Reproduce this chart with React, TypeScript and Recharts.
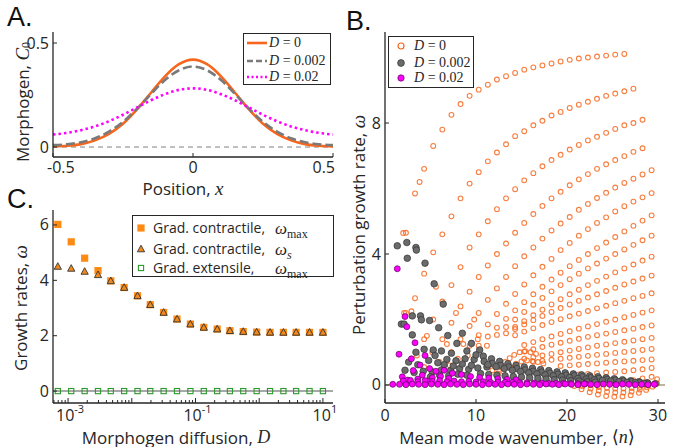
import { LineChart, Line, ScatterChart, Scatter, XAxis, YAxis, ReferenceLine } from "recharts"

const SANS = "'Open Sans', 'DejaVu Sans', sans-serif"
const MATH = "'Liberation Serif', 'DejaVu Serif', serif"
const INK = "#262626"
const ORANGE = "#f7661c"
const GRAY = "#7a7a7a"
const MAGENTA = "#ff00ff"

// ---- A. morphogen profiles
const positions = [-0.5, -0.45, -0.4, -0.35, -0.3, -0.25, -0.2, -0.15, -0.1, -0.05, 0, 0.05, 0.1, 0.15, 0.2, 0.25, 0.3, 0.35, 0.4, 0.45, 0.5]
const profileD0 = [0.003, 0.006, 0.014, 0.032, 0.063, 0.112, 0.181, 0.261, 0.34, 0.398, 0.42, 0.398, 0.34, 0.261, 0.181, 0.112, 0.063, 0.032, 0.014, 0.006, 0.003]
const profileD1 = [0.009, 0.013, 0.023, 0.042, 0.074, 0.121, 0.184, 0.255, 0.322, 0.369, 0.387, 0.369, 0.322, 0.255, 0.184, 0.121, 0.074, 0.042, 0.023, 0.013, 0.009]
const profileD2 = [0.06, 0.068, 0.081, 0.099, 0.124, 0.155, 0.19, 0.225, 0.254, 0.275, 0.282, 0.275, 0.254, 0.225, 0.19, 0.155, 0.124, 0.099, 0.081, 0.068, 0.06]
const profileRows = positions.map((x, i) => ({ x, d0: profileD0[i], d1: profileD1[i], d2: profileD2[i] }))

// ---- C. growth rates vs diffusion
const diffusion = [0.00069, 0.00112, 0.00182, 0.00295, 0.00468, 0.00759, 0.0123, 0.0195, 0.0316, 0.0513, 0.0832, 0.135, 0.219, 0.347, 0.562, 0.912, 1.48, 2.4, 3.8, 6.17, 10]
const contractileMax = [6.02, 5.39, 4.8, 4.35, 3.98, 3.74, 3.44, 3.12, 2.84, 2.6, 2.42, 2.3, 2.24, 2.18, 2.15, 2.13, 2.12, 2.12, 2.12, 2.12, 2.12]
const contractileS = [4.5, 4.43, 4.32, 4.2, 3.98, 3.74, 3.44, 3.12, 2.84, 2.6, 2.42, 2.3, 2.24, 2.18, 2.15, 2.13, 2.12, 2.12, 2.12, 2.12, 2.12]
const extensileMax = [0, 0, 0, 0, 0, 0, 0, 0, 0, 0, 0, 0, 0, 0, 0, 0, 0, 0, 0, 0, 0]
const diffTicks = [0.0006, 0.0007, 0.0008, 0.0009, 0.001, 0.002, 0.003, 0.004, 0.005, 0.006, 0.007, 0.008, 0.009, 0.01, 0.02, 0.03, 0.04, 0.05, 0.06, 0.07, 0.08, 0.09, 0.1, 0.2, 0.3, 0.4, 0.5, 0.6, 0.7, 0.8, 0.9, 1, 2, 3, 4, 5, 6, 7, 8, 9, 10]
const diffLabels: Record<string, string> = { "-3": "-3", "-1": "-1", "1": "1" }

const cMax = diffusion.map((D, i) => ({ D, w: contractileMax[i] }))
const cS = diffusion.map((D, i) => ({ D, w: contractileS[i] }))
const cExt = diffusion.map((D, i) => ({ D, w: extensileMax[i] }))

// ---- B. perturbation growth rates vs mean mode wavenumber
const modeN = [1.3, 2.3, 3.3, 4.3, 5.3, 6.3, 7.3, 8.3, 9.3, 10.3, 11.3, 12.3, 13.3, 14.3, 15.3, 16.3, 17.3, 18.3, 19.3, 20.3, 21.3, 22.3, 23.3, 24.3, 25.3, 26.3, 27.3, 28.3, 29.3]

// [first mode, growth rates along the branch]
const branchesD0: [number, number[]][] = [
  [2, [4.65, 5.85, 6.6, 7.3, 7.8, 8.25, 8.58, 8.83, 9.02, 9.17, 9.33, 9.43, 9.53, 9.63, 9.7, 9.76, 9.82, 9.88, 9.93, 9.97, 10.0, 10.03, 10.06, 10.09, 10.11]],
  [2, [2.2, 2.65, 3.4, 4.05, 4.6, 5.15, 5.7, 6.15, 6.5, 6.83, 7.1, 7.35, 7.6, 7.75, 7.93, 8.07, 8.23, 8.34, 8.46, 8.56, 8.65, 8.74, 8.83, 8.9, 8.97, 9.05]],
  [4, [1.4, 2.0, 2.55, 3.05, 3.6, 4.2, 4.6, 5.0, 5.37, 5.7, 5.98, 6.25, 6.47, 6.68, 6.87, 7.03, 7.19, 7.33, 7.47, 7.58, 7.7, 7.82, 7.93, 8.0, 8.1]],
  [6, [1.4, 1.9, 2.4, 2.85, 3.3, 3.65, 4.0, 4.32, 4.65, 4.95, 5.22, 5.47, 5.7, 5.9, 6.1, 6.28, 6.44, 6.6, 6.74, 6.87, 6.99, 7.12, 7.23]],
  [7, [1.0, 1.4, 1.8, 2.2, 2.6, 2.95, 3.3, 3.63, 3.93, 4.2, 4.47, 4.72, 4.93, 5.13, 5.35, 5.53, 5.71, 5.87, 6.03, 6.17, 6.3, 6.43, 6.56]],
  [9, [1.2, 1.52, 1.85, 2.17, 2.48, 2.78, 3.07, 3.35, 3.61, 3.85, 4.12, 4.34, 4.56, 4.76, 4.95, 5.12, 5.3, 5.46, 5.6, 5.73, 5.86]],
  [10, [1.2, 1.48, 1.75, 2.02, 2.28, 2.53, 2.77, 3.0, 3.22, 3.43, 3.63, 3.82, 4.0, 4.18, 4.35, 4.52, 4.69, 4.86, 5.02, 5.18]],
  [12, [1.53, 1.77, 2.0, 2.23, 2.45, 2.66, 2.86, 3.05, 3.23, 3.4, 3.56, 3.71, 3.86, 4.0, 4.14, 4.28, 4.42, 4.56]],
  [13, [1.58, 1.77, 1.95, 2.13, 2.3, 2.46, 2.62, 2.77, 2.91, 3.05, 3.18, 3.31, 3.44, 3.56, 3.68, 3.8, 3.92]],
  [14, [1.71, 1.85, 1.98, 2.11, 2.23, 2.35, 2.46, 2.57, 2.67, 2.77, 2.87, 2.97, 3.07, 3.16, 3.25, 3.34]],
  [14, [1.52, 1.63, 1.73, 1.83, 1.92, 2.01, 2.1, 2.18, 2.26, 2.34, 2.42, 2.5, 2.57, 2.65, 2.72, 2.8]],
  [15, [1.22, 1.31, 1.4, 1.48, 1.56, 1.64, 1.72, 1.79, 1.86, 1.93, 2.0, 2.07, 2.14, 2.21, 2.28]],
  [15, [1.02, 1.09, 1.16, 1.23, 1.29, 1.35, 1.41, 1.47, 1.52, 1.57, 1.62, 1.67, 1.72, 1.77, 1.82]],
  [15, [0.8, 0.85, 0.9, 0.95, 1.0, 1.05, 1.1, 1.15, 1.2, 1.24, 1.28, 1.32, 1.36, 1.4, 1.44]],
  [16, [0.71, 0.74, 0.77, 0.8, 0.83, 0.86, 0.89, 0.92, 0.95, 0.98, 1.01, 1.04, 1.07, 1.1]],
  [19, [0.58, 0.6, 0.62, 0.64, 0.66, 0.68, 0.7, 0.72, 0.74, 0.76, 0.78]],
  [21, [0.32, 0.34, 0.36, 0.38, 0.4, 0.42, 0.45, 0.48, 0.52]],
  [23, [0.05, 0.08, 0.1, 0.12, 0.15, 0.2, 0.25]],
]

// loose points of D = 0 (fan, loop below zero, low modes)
const looseD0 = [
  [12.6, 0.55], [13.2, 0.7], [13.7, 0.82], [14.2, 0.92], [14.8, 1.0], [15.4, 1.03], [16.0, 1.0], [16.6, 0.95],
  [13.8, 0.55], [14.4, 0.65], [15.0, 0.72], [15.6, 0.75], [16.2, 0.73], [16.8, 0.7], [17.4, 0.66], [11.8, 0.45], [12.4, 0.35], [13.0, 0.42],
  [20.8, -0.03], [21.6, -0.13], [22.5, -0.22], [23.4, -0.29], [24.3, -0.34], [25.2, -0.36], [26.1, -0.35], [27.0, -0.31], [27.9, -0.24], [28.7, -0.15], [29.4, -0.05], [29.9, 0.05],
  [21.7, -0.04], [22.6, -0.11], [23.5, -0.17], [24.4, -0.21], [25.3, -0.23], [26.2, -0.23], [27.1, -0.2], [28.0, -0.14], [28.8, -0.07],
  [22.6, -0.01], [23.5, -0.06], [24.4, -0.09], [25.3, -0.11], [26.2, -0.11], [27.1, -0.09], [28.0, -0.06], [29.9, 0.18],
  [2.1, 2.2], [2.9, 2.25], [4.6, 1.5], [5.2, 1.0], [6.0, 0.7], [7.1, 0.6], [8.0, 0.8], [9.1, 0.9], [3.5, 0.9], [4.3, 0.55],
  [6.8, 1.25], [8.6, 1.25], [10.2, 1.4], [11.2, 1.2], [9.8, 2.0], [7.8, 2.2], [5.6, 3.0], [2.0, 4.64], [3.8, 6.2],
]

const pointsD002 = [
  [1.35, 4.25], [2.4, 4.35], [3.4, 4.2], [3.45, 4.12], [2.45, 3.87], [4.4, 3.72], [5.4, 3.09], [6.4, 2.47], [3.0, 2.11], [3.9, 2.11],
  [4.0, 1.99], [1.8, 1.86], [2.1, 1.86], [4.9, 1.97], [5.9, 1.75], [3.0, 1.53], [6.9, 1.51], [8.5, 1.58], [7.9, 1.27], [9.5, 1.27],
  [4.3, 1.09], [5.3, 1.07], [6.2, 1.04], [3.4, 1.0], [7.3, 0.97], [9.0, 1.04], [10.4, 1.07], [2.6, 0.7], [3.6, 0.62], [4.8, 0.75],
  [5.8, 0.68], [6.8, 0.78], [7.8, 0.74], [8.8, 0.8], [9.8, 0.78], [2.2, 0.45], [3.2, 0.38], [4.2, 0.42], [5.2, 0.4], [6.2, 0.46],
  [7.2, 0.44], [8.2, 0.5], [9.2, 0.48], [10.2, 0.52], [11.2, 0.55],
  [10.8, 0.88], [11.7, 0.8], [12.6, 0.72], [13.5, 0.65], [14.4, 0.6], [15.3, 0.55], [16.2, 0.51], [17.1, 0.47], [18.0, 0.44], [18.9, 0.4],
  [19.8, 0.37], [20.7, 0.34], [21.6, 0.31], [22.5, 0.28], [23.4, 0.25], [24.3, 0.22], [25.2, 0.19], [26.1, 0.16], [27.0, 0.13], [27.9, 0.1],
  [28.8, 0.07], [29.7, 0.04],
  [10.9, 0.72], [11.8, 0.66], [12.7, 0.6], [13.6, 0.55], [14.5, 0.5], [15.4, 0.46], [16.3, 0.42], [17.2, 0.39], [18.1, 0.36], [19.0, 0.33],
  [19.9, 0.3], [20.8, 0.28], [21.7, 0.25], [22.6, 0.22], [23.5, 0.2], [24.4, 0.17], [25.3, 0.15], [26.2, 0.12], [27.1, 0.1], [28.0, 0.08], [28.9, 0.05],
  [11.3, 0.62], [12.2, 0.56], [13.1, 0.5], [14.0, 0.45], [14.9, 0.41], [15.8, 0.37], [16.7, 0.34], [17.6, 0.31], [18.5, 0.28], [19.4, 0.25],
  [20.3, 0.23], [21.2, 0.2], [22.1, 0.18], [23.0, 0.16], [23.9, 0.14], [24.8, 0.12], [25.7, 0.1], [26.6, 0.08], [27.5, 0.07], [28.4, 0.05],
  [10.5, 0.35], [11.4, 0.32], [12.3, 0.3], [13.2, 0.28], [14.1, 0.26], [15.0, 0.24], [15.9, 0.22], [16.8, 0.2], [17.7, 0.18], [18.6, 0.16],
  [19.5, 0.15], [20.4, 0.13], [21.3, 0.12], [22.2, 0.1], [23.1, 0.09],
  [5.5, 0.9], [6.5, 0.62], [7.5, 0.58], [8.5, 0.64], [9.5, 0.6], [10.0, 0.92], [5.0, 0.25], [6.0, 0.3], [7.0, 0.28], [8.0, 0.33], [9.0, 0.3],
]

const pointsD02 = [
  [1.35, 3.55], [2.2, 2.09], [2.4, 1.78], [3.3, 1.29], [1.54, 0.94], [2.9, 0.8], [3.85, 0.61], [1.9, 0.25], [0.85, 0.02], [4.4, 0.9],
  [4.9, 0.5], [5.6, 0.42], [6.5, 0.45], [7.4, 0.36], [3.1, 0.44], [2.5, 0.15], [4.1, 0.3], [8.4, 0.32], [5.2, 0.22], [6.1, 0.26],
  [7.0, 0.2], [9.4, 0.26], [10.4, 0.23], [11.4, 0.21], [12.4, 0.19], [13.4, 0.17], [14.4, 0.16], [3.6, 0.18], [4.6, 0.12],
  [2.0, 0.12], [2.8, 0.14], [3.6, 0.1], [4.4, 0.13], [5.2, 0.11], [6.0, 0.13], [6.8, 0.1], [7.6, 0.12], [8.4, 0.1], [9.2, 0.11],
  [10.0, 0.09], [10.8, 0.1], [11.6, 0.08], [12.4, 0.09], [13.2, 0.08], [14.0, 0.08], [14.8, 0.07], [15.6, 0.07], [16.4, 0.06], [17.2, 0.06],
  [18.0, 0.05], [18.8, 0.05], [19.6, 0.05], [20.4, 0.04], [21.2, 0.04], [22.0, 0.04],
  [1.6, 0.02], [2.3, 0.01], [3.0, 0.03], [3.7, 0.02], [4.4, 0.01], [5.1, 0.03], [5.8, 0.02], [6.5, 0.01], [7.2, 0.03], [7.9, 0.02],
  [8.6, 0.01], [9.3, 0.03], [10.0, 0.02], [10.7, 0.01], [11.4, 0.03], [12.1, 0.02], [12.8, 0.01], [13.5, 0.03], [14.2, 0.02], [14.9, 0.01],
  [15.6, 0.03], [16.3, 0.02], [17.0, 0.01], [17.7, 0.03], [18.4, 0.02], [19.1, 0.01], [19.8, 0.03], [20.5, 0.02], [21.2, 0.01], [21.9, 0.03],
  [22.6, 0.02], [23.3, 0.01], [24.0, 0.03], [24.7, 0.02], [25.4, 0.01], [26.1, 0.03], [26.8, 0.02], [27.5, 0.01], [28.2, 0.02], [28.9, 0.01], [29.6, 0.02],
]

const toPts = (list: number[][]) => list.map(([n, w]) => ({ n, w }))
const bD0 = [
  ...branchesD0.flatMap(([first, ws]) => ws.map((w, i) => ({ n: modeN[first - 1 + i], w }))),
  ...toPts(looseD0),
]
const bD002 = toPts(pointsD002)
const bD02 = toPts(pointsD02)

// ---- axis helpers
const tickText = { fontFamily: SANS, fontSize: 16, fill: INK }

const bottomTick = (label: (v: number) => any, len: (v: number) => number, dy: number, anchor?: (v: number) => [string, number]) =>
  (p: any) => {
    const v = p.payload.value
    const [ta, dx] = anchor ? anchor(v) : ["middle", 0]
    const t = label(v)
    return (
      <g>
        <line x1={p.x} y1={p.y} x2={p.x} y2={p.y - len(v)} stroke={INK} strokeWidth={1} />
        {t != null && <text x={p.x + dx} y={p.y + dy} textAnchor={ta} {...tickText}>{t}</text>}
      </g>
    )
  }

const leftTick = (label: (v: number) => string) => (p: any) => (
  <g>
    <line x1={p.x} y1={p.y} x2={p.x + 4} y2={p.y} stroke={INK} strokeWidth={1} />
    <text x={p.x - 4} y={p.y + 5.5} textAnchor="end" {...tickText}>{label(p.payload.value)}</text>
  </g>
)

function Title({ px, py, rot = 0, children }: any) {
  return (
    <text x={px} y={py} transform={rot ? `rotate(${rot} ${px} ${py})` : undefined} textAnchor="middle"
      dominantBaseline="central" fontFamily={SANS} fontSize={17} fill={INK}>
      {children}
    </text>
  )
}

const axisLine = { stroke: INK, strokeWidth: 1.3 }
const mathSpan = { fontFamily: MATH, fontStyle: "italic" as const, fontSize: 19 }
const mathLow = { ...mathSpan, fontSize: 18 }

const ring = (p: any) => <circle cx={p.cx} cy={p.cy} r={2.4} fill="none" stroke={ORANGE} strokeWidth={1.1} strokeOpacity={0.85} />
const grayDot = (p: any) => <circle cx={p.cx} cy={p.cy} r={3.3} fill="#6b6b6b" stroke="#333" strokeWidth={0.7} />
const pinkDot = (p: any) => <circle cx={p.cx} cy={p.cy} r={3} fill={MAGENTA} stroke="#5a0a5a" strokeWidth={0.7} />
const orangeSquare = (p: any) => <rect x={p.cx - 3.6} y={p.cy - 3.6} width={7.2} height={7.2} fill="#ff8a12" />
const triangle = (p: any) => (
  <polygon points={`${p.cx},${p.cy - 3.8} ${p.cx - 3.6},${p.cy + 2.8} ${p.cx + 3.6},${p.cy + 2.8}`} fill="#f08a1e" stroke="#333" strokeWidth={0.9} />
)
const greenSquare = (p: any) => <rect x={p.cx - 2.6} y={p.cy - 2.6} width={5.2} height={5.2} fill="none" stroke="#2a9a2a" strokeWidth={1.1} />

const box = (left: number, top: number, width: number, height: number): React.CSSProperties => ({
  position: "absolute", left, top, width, height, border: `1.3px solid ${INK}`, background: "#fff", boxSizing: "border-box",
})
const row = (top: number, left: number, extra: React.CSSProperties = {}): React.CSSProperties => ({
  position: "absolute", top, left, transform: "translateY(-50%)", whiteSpace: "nowrap", lineHeight: 1, ...extra,
})
const legendMath: React.CSSProperties = { fontFamily: MATH, fontSize: 14, color: INK }

function DLabel({ value }: { value: string }) {
  return <span><i>D</i> = {value}</span>
}

const panelLabel = (left: number, top: number): React.CSSProperties => ({
  position: "absolute", left, top, fontFamily: "'Liberation Sans', Arial, sans-serif", fontSize: 27, color: "#111", lineHeight: 1,
})

export default function App() {
  return (
    <div style={{ position: "absolute", left: 0, top: 0, width: 682, height: 447, background: "#fff", overflow: "hidden" }}>
      {/* A */}
      <div style={{ position: "absolute", left: 0, top: 0 }}>
        <LineChart width={345} height={200} data={profileRows} margin={{ top: 32, right: 12, bottom: 0, left: 0 }}>
          <XAxis type="number" dataKey="x" domain={[-0.5, 0.5]} ticks={[-0.5, 0, 0.5]} interval={0} height={43}
            tickSize={0} tickMargin={0} tickLine={false} axisLine={axisLine}
            tick={bottomTick((v) => String(v), () => 4, 16, (v) => (v === -0.5 ? ["start", -6] : v === 0.5 ? ["end", 2] : ["middle", 0]))} />
          <YAxis type="number" domain={[-0.048, 0.553]} ticks={[0, 0.5]} interval={0} width={53} allowDataOverflow
            tickSize={0} tickMargin={0} tickLine={false} axisLine={axisLine} tick={leftTick((v) => String(v))} />
          <ReferenceLine y={0} stroke="#808080" strokeDasharray="5 4" strokeWidth={1} />
          <Line type="monotone" dataKey="d0" stroke={ORANGE} strokeWidth={2.6} dot={false} isAnimationActive={false} />
          <Line type="monotone" dataKey="d1" stroke={GRAY} strokeWidth={2.6} strokeDasharray="9 4" dot={false} isAnimationActive={false} />
          <Line type="monotone" dataKey="d2" stroke={MAGENTA} strokeWidth={2.6} strokeDasharray="2.5 3" dot={false} isAnimationActive={false} />
        </LineChart>
      </div>

      {/* C */}
      <div style={{ position: "absolute", left: 0, top: 200 }}>
        <ScatterChart width={345} height={247} margin={{ top: 10, right: 12, bottom: 0, left: 0 }}>
          <XAxis type="number" dataKey="D" scale="log" domain={[0.00058, 14.4]} allowDataOverflow ticks={diffTicks} interval={0} height={44}
            tickSize={0} tickMargin={0} tickLine={false} axisLine={axisLine}
            tick={bottomTick(
              (v) => {
                const e = Math.round(Math.log10(v))
                const lab = Math.abs(Math.log10(v) - e) < 1e-6 ? diffLabels[String(e)] : undefined
                return lab ? <><tspan>10</tspan><tspan fontSize={11} dy={-8}>{lab}</tspan></> : null
              },
              (v) => (Math.abs(Math.log10(v) - Math.round(Math.log10(v))) < 1e-6 ? 5 : 3),
              17.5,
              () => ["middle", 2],
            )} />
          <YAxis type="number" dataKey="w" domain={[-0.43, 6.54]} ticks={[0, 2, 4, 6]} interval={0} width={53} allowDataOverflow
            tickSize={0} tickMargin={0} tickLine={false} axisLine={axisLine} tick={leftTick((v) => String(v))} />
          <ReferenceLine y={0} stroke="#a8a8a8" strokeWidth={2} />
          <Scatter data={cMax} shape={orangeSquare} isAnimationActive={false} />
          <Scatter data={cS} shape={triangle} isAnimationActive={false} />
          <Scatter data={cExt} shape={greenSquare} isAnimationActive={false} />
        </ScatterChart>
      </div>

      {/* B */}
      <div style={{ position: "absolute", left: 330, top: 0 }}>
        <ScatterChart width={352} height={447} margin={{ top: 32, right: 17, bottom: 0, left: 0 }}>
          <XAxis type="number" dataKey="n" domain={[0, 30.77]} ticks={[0, 10, 20, 30]} interval={0} height={44} allowDataOverflow
            tickSize={0} tickMargin={0} tickLine={false} axisLine={axisLine}
            tick={bottomTick((v) => String(v), () => 4, 17.5)} />
          <YAxis type="number" dataKey="w" domain={[-0.55, 10.78]} ticks={[0, 4, 8]} interval={0} width={55} allowDataOverflow
            tickSize={0} tickMargin={0} tickLine={false} axisLine={axisLine} tick={leftTick((v) => String(v))} />
          <ReferenceLine y={0} stroke="#a89a7c" strokeWidth={1.5} />
          <Scatter data={bD0} shape={ring} isAnimationActive={false} />
          <Scatter data={bD002} shape={grayDot} isAnimationActive={false} />
          <Scatter data={bD02} shape={pinkDot} isAnimationActive={false} />
        </ScatterChart>
      </div>

      {/* axis titles */}
      <svg width={682} height={447} style={{ position: "absolute", left: 0, top: 0, pointerEvents: "none" }}>
        <Title px={183} py={188}>Position, <tspan {...mathSpan}>x</tspan></Title>
        <Title px={22} py={102} rot={-90}>Morphogen, <tspan {...mathSpan}>C</tspan><tspan fontFamily={MATH} fontSize={12} dy={4}>0</tspan></Title>
        <Title px={176} py={437}>Morphogen diffusion, <tspan {...mathLow}>D</tspan></Title>
        <Title px={20} py={308} rot={-90}>Growth rates, <tspan {...mathSpan}>ω</tspan></Title>
        <Title px={517} py={437}>Mean mode wavenumber, <tspan {...mathLow} fontStyle="normal">⟨</tspan><tspan {...mathLow}>n</tspan><tspan {...mathLow} fontStyle="normal">⟩</tspan></Title>
        <Title px={358} py={225} rot={-90}>Perturbation growth rate, <tspan {...mathSpan}>ω</tspan></Title>
      </svg>

      {/* legends */}
      <div style={box(243, 33, 88, 52)}>
        {[
          { c: ORANGE, dash: undefined, v: "0" },
          { c: GRAY, dash: "6 3", v: "0.002" },
          { c: MAGENTA, dash: "2 2.5", v: "0.02" },
        ].map((e, i) => (
          <div key={i}>
            <svg style={row([9, 27, 43][i], 3)} width={20} height={4}>
              <line x1={0} y1={2} x2={20} y2={2} stroke={e.c} strokeWidth={2.6} strokeDasharray={e.dash} />
            </svg>
            <span style={row([9, 27, 43][i], 25, legendMath)}><DLabel value={e.v} /></span>
          </div>
        ))}
      </div>

      <div style={box(388, 36, 86, 52)}>
        {[
          { el: <circle cx={5} cy={5} r={3} fill="none" stroke={ORANGE} strokeWidth={1.2} />, v: "0" },
          { el: <circle cx={5} cy={5} r={3.4} fill="#6b6b6b" stroke="#333" strokeWidth={0.7} />, v: "0.002" },
          { el: <circle cx={5} cy={5} r={3.2} fill={MAGENTA} stroke="#5a0a5a" strokeWidth={0.7} />, v: "0.02" },
        ].map((e, i) => (
          <div key={i}>
            <svg style={row([9, 25.5, 41][i], 7)} width={10} height={10}>{e.el}</svg>
            <span style={row([9, 25.5, 41][i], 25, legendMath)}><DLabel value={e.v} /></span>
          </div>
        ))}
      </div>

      <div style={box(132, 215, 202, 62)}>
        {[
          { el: <rect x={1.4} y={1.4} width={7.2} height={7.2} fill="#ff8a12" />, t: "Grad. contractile,", sub: "max" },
          { el: <polygon points="5,1.2 1.4,7.8 8.6,7.8" fill="#f08a1e" stroke="#333" strokeWidth={0.9} />, t: "Grad. contractile,", sub: "s" },
          { el: <rect x={2.4} y={2.4} width={5.2} height={5.2} fill="none" stroke="#2a9a2a" strokeWidth={1.1} />, t: "Grad. extensile,", sub: "max" },
        ].map((e, i) => (
          <div key={i}>
            <svg style={row([12, 32.5, 52][i], 3)} width={10} height={10}>{e.el}</svg>
            <span style={row([12, 32.5, 52][i], 20, { fontFamily: SANS, fontSize: 14, color: INK })}>{e.t}</span>
            <span style={row([12, 32.5, 52][i], 142, { fontFamily: MATH, fontSize: 17, color: INK })}>
              <i>ω</i><span style={{ fontSize: 12, fontStyle: e.sub === "s" ? "italic" : "normal", position: "relative", top: 4 }}>{e.sub}</span>
            </span>
          </div>
        ))}
      </div>

      <div style={panelLabel(7, 4)}>A.</div>
      <div style={panelLabel(346, 8)}>B.</div>
      <div style={panelLabel(7, 186)}>C.</div>
    </div>
  )
}
